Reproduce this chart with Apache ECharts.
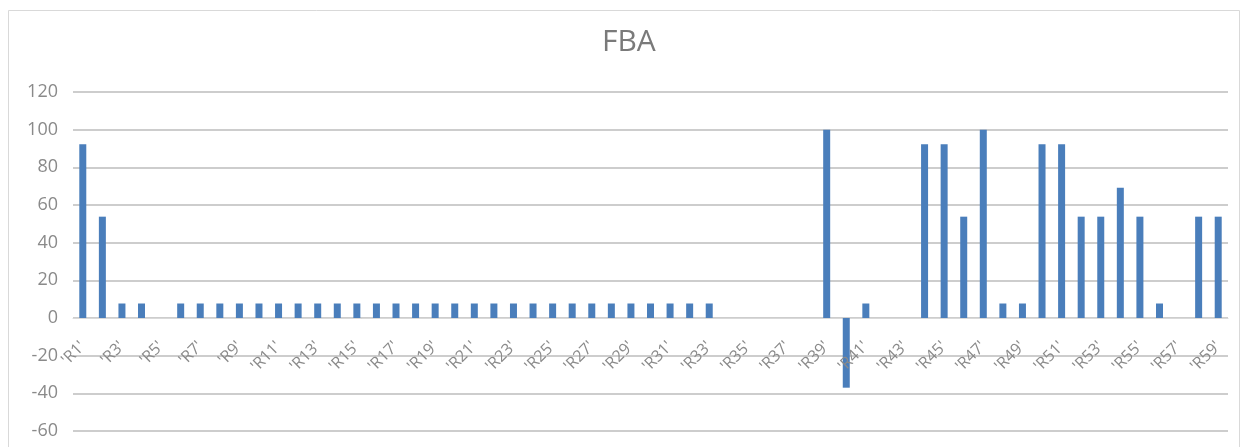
<!DOCTYPE html>
<html>
<head>
<meta charset="utf-8">
<title>FBA</title>
<script src="https://cdn.jsdelivr.net/npm/echarts@6/dist/echarts.min.js"></script>
<style>
  html, body { margin: 0; padding: 0; background: #ffffff; }
  #chart { width: 1244px; height: 447px; }
</style>
</head>
<body>
<div id="chart"></div>
<script>
// Category names R1..R59 written out as they appear on the axis
const categories = [
  "'R1'","'R2'","'R3'","'R4'","'R5'","'R6'","'R7'","'R8'","'R9'","'R10'",
  "'R11'","'R12'","'R13'","'R14'","'R15'","'R16'","'R17'","'R18'","'R19'","'R20'",
  "'R21'","'R22'","'R23'","'R24'","'R25'","'R26'","'R27'","'R28'","'R29'","'R30'",
  "'R31'","'R32'","'R33'","'R34'","'R35'","'R36'","'R37'","'R38'","'R39'","'R40'",
  "'R41'","'R42'","'R43'","'R44'","'R45'","'R46'","'R47'","'R48'","'R49'","'R50'",
  "'R51'","'R52'","'R53'","'R54'","'R55'","'R56'","'R57'","'R58'","'R59'"
];

// FBA value per category
const fbaValues = [
  92.3, 53.8, 7.7, 7.7, 0, 7.7, 7.7, 7.7, 7.7, 7.7,
  7.7, 7.7, 7.7, 7.7, 7.7, 7.7, 7.7, 7.7, 7.7, 7.7,
  7.7, 7.7, 7.7, 7.7, 7.7, 7.7, 7.7, 7.7, 7.7, 7.7,
  7.7, 7.7, 7.7, 0, 0, 0, 0, 0, 100, -37,
  7.7, 0, 0, 92.3, 92.3, 53.8, 100, 7.7, 7.7, 92.3,
  92.3, 53.8, 53.8, 69.2, 53.8, 7.7, 0, 53.8, 53.8
];

// Value axis range and step
const yMin = -60;
const yMax = 120;
const yStep = 20;

const chart = echarts.init(document.getElementById('chart'));
const font = '"Open Sans", "Liberation Sans", sans-serif';
const labelColor = '#8a8a8a';

// Every other category gets a slanted label hanging below the zero line
const labelRows = categories
  .map((name, i) => [i, 0, name])
  .filter(row => row[0] % 2 === 0);

function renderCategoryLabel(params, api) {
  const pt = api.coord([api.value(0), 0]);
  return {
    type: 'text',
    x: pt[0],
    y: pt[1] + 26,
    rotation: Math.PI / 4,
    style: {
      text: labelRows[params.dataIndex][2],
      align: 'right',
      verticalAlign: 'middle',
      fontFamily: font,
      fontSize: 16,
      fill: labelColor
    }
  };
}

chart.setOption({
  backgroundColor: '#ffffff',
  animation: false,
  title: {
    text: 'FBA',
    left: 597,
    top: 22,
    textStyle: { fontFamily: font, fontSize: 30, fontWeight: 'normal', color: '#7a7a7a' }
  },
  graphic: [{
    type: 'rect',
    shape: { x: 8.5, y: 10.5, width: 1231, height: 450 },
    style: { fill: 'none', stroke: '#d9d9d9', lineWidth: 1 },
    silent: true
  }],
  grid: {
    left: 73, right: 16, top: 92, bottom: 16,
    containLabel: false, outerBoundsMode: 'none'
  },
  xAxis: {
    type: 'category',
    data: categories,
    axisLine: { onZero: true, lineStyle: { color: '#d9d9d9', width: 1 } },
    axisTick: { show: false },
    axisLabel: { show: false }
  },
  yAxis: {
    type: 'value',
    min: yMin,
    max: yMax,
    interval: yStep,
    axisLine: { show: false },
    axisTick: { show: false },
    axisLabel: { margin: 15, fontFamily: font, fontSize: 18, color: labelColor },
    splitLine: { lineStyle: { color: '#bcbcbc', width: 1.5 } }
  },
  series: [{
    name: 'FBA',
    type: 'bar',
    data: fbaValues,
    barWidth: 7,
    itemStyle: { color: '#4a7ebb' }
  }, {
    name: 'labels',
    type: 'custom',
    data: labelRows,
    encode: { x: 0, y: 1 },
    clip: false,
    silent: true,
    z: 5,
    renderItem: renderCategoryLabel
  }]
});
</script>
</body>
</html>
